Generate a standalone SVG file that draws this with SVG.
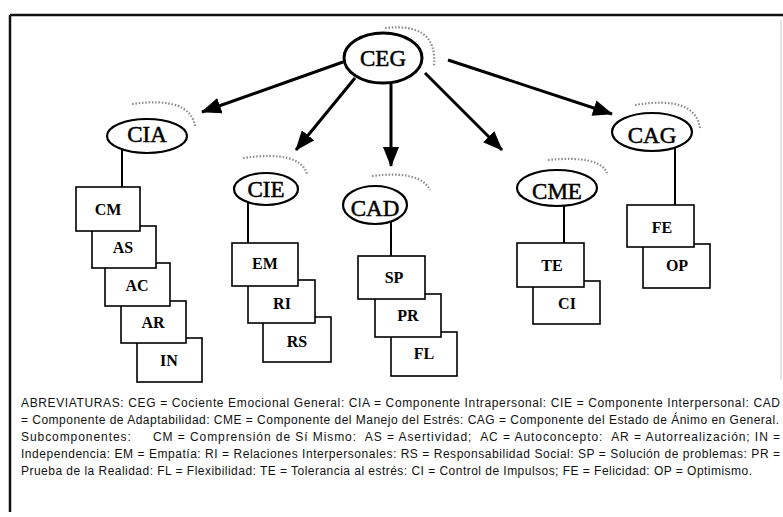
<svg xmlns="http://www.w3.org/2000/svg" width="783" height="517" viewBox="0 0 783 517">
<defs>
<marker id="ah" markerUnits="userSpaceOnUse" markerWidth="20" markerHeight="16" refX="19" refY="8" orient="auto">
<path d="M0,0 L20,8 L0,16 z" fill="#000"/>
</marker>
<style>
.conn{stroke:#000;stroke-width:3;fill:none}
.arr{marker-end:url(#ah)}
.link{stroke:#000;stroke-width:2;fill:none}
.ell{fill:#fff;stroke:#000;stroke-width:2.2}
.ell0{fill:#fff;stroke:#000;stroke-width:3}
.box{fill:#fff;stroke:#000;stroke-width:1.6}
.shade{fill:none;stroke:#8a8a8a;stroke-width:2.2;stroke-dasharray:1.5 1.8}
.lbl{font-family:"Liberation Serif",serif;font-size:23px;text-anchor:middle;fill:#000;stroke:#000;stroke-width:0.5}
.sub{font-family:"Liberation Serif",serif;font-size:16px;font-weight:bold;text-anchor:middle;fill:#000}
.note{font-family:"Liberation Sans",sans-serif;font-size:12px;fill:#111}
.frame{stroke:#111;stroke-width:2.5;fill:none}
</style>
</defs>
<rect width="783" height="517" fill="#fff"/>
<path class="frame" d="M10,15 L783,15 M10,15 L10,512"/>
<line x1="781" y1="20" x2="781" y2="380" stroke="#ccc" stroke-width="1"/>

<g id="shades">
<path class="shade" d="M385,28 Q438,22 434,66"/>
<path class="shade" d="M132,104 Q190,96 195,126"/>
<path class="shade" d="M243,158 Q300,150 307,174"/>
<path class="shade" d="M372,176 Q420,170 430,190"/>
<path class="shade" d="M548,160 Q600,155 607,173"/>
<path class="shade" d="M635,105 Q695,95 700,128"/>
</g>

<g id="connectors">
<line class="conn arr" x1="343" y1="62" x2="202" y2="112"/>
<line class="conn arr" x1="355" y1="78" x2="296" y2="150"/>
<line class="conn arr" x1="391" y1="82" x2="391" y2="166"/>
<line class="conn arr" x1="425" y1="73" x2="502" y2="150"/>
<line class="conn arr" x1="448" y1="60" x2="612" y2="114"/>
<line class="link" x1="122" y1="148" x2="122" y2="187"/>
<line class="link" x1="248" y1="200" x2="248" y2="243"/>
<line class="link" x1="391" y1="220" x2="391" y2="256"/>
<line class="link" x1="564" y1="204" x2="564" y2="243"/>
<line class="link" x1="675" y1="146" x2="675" y2="205"/>
</g>

<g id="CEG">
<ellipse class="ell0" cx="383" cy="58" rx="39" ry="25"/>
<text class="lbl" x="383" y="66">CEG</text>
</g>

<g id="CIA">
<ellipse class="ell" cx="147" cy="136" rx="40" ry="17"/>
<text class="lbl" x="147" y="142">CIA</text>
</g>
<g id="CIA-boxes">
<g id="IN"><rect class="box" x="137" y="338" width="65" height="44"/><text class="sub" x="169" y="366">IN</text></g>
<g id="AR"><rect class="box" x="121" y="301" width="65" height="42"/><text class="sub" x="153" y="328">AR</text></g>
<g id="AC"><rect class="box" x="105" y="263" width="65" height="43"/><text class="sub" x="137" y="291">AC</text></g>
<g id="AS"><rect class="box" x="92" y="226" width="64" height="42"/><text class="sub" x="123" y="253">AS</text></g>
<g id="CM"><rect class="box" x="76" y="187" width="64" height="44"/><text class="sub" x="108" y="215">CM</text></g>
</g>

<g id="CIE">
<ellipse class="ell" cx="266" cy="189" rx="32" ry="16"/>
<text class="lbl" x="266" y="197">CIE</text>
</g>
<g id="CIE-boxes">
<g id="RS"><rect class="box" x="263" y="317" width="68" height="45"/><text class="sub" x="297" y="347">RS</text></g>
<g id="RI"><rect class="box" x="248" y="280" width="67" height="43"/><text class="sub" x="282" y="309">RI</text></g>
<g id="EM"><rect class="box" x="232" y="243" width="66" height="43"/><text class="sub" x="265" y="269">EM</text></g>
</g>

<g id="CAD">
<ellipse class="ell" cx="375" cy="205" rx="32" ry="19"/>
<text class="lbl" x="375" y="216">CAD</text>
</g>
<g id="CAD-boxes">
<g id="FL"><rect class="box" x="391" y="332" width="66" height="44"/><text class="sub" x="424" y="359">FL</text></g>
<g id="PR"><rect class="box" x="375" y="294" width="66" height="43"/><text class="sub" x="408" y="321">PR</text></g>
<g id="SP"><rect class="box" x="358" y="256" width="67" height="43"/><text class="sub" x="394" y="283">SP</text></g>
</g>

<g id="CME">
<ellipse class="ell" cx="557" cy="188" rx="40" ry="18"/>
<text class="lbl" x="557" y="199">CME</text>
</g>
<g id="CME-boxes">
<g id="CI"><rect class="box" x="533" y="281" width="67" height="43"/><text class="sub" x="567" y="309">CI</text></g>
<g id="TE"><rect class="box" x="517" y="243" width="67" height="44"/><text class="sub" x="552" y="271">TE</text></g>
</g>

<g id="CAG">
<ellipse class="ell" cx="652" cy="132" rx="40" ry="19"/>
<text class="lbl" x="652" y="143">CAG</text>
</g>
<g id="CAG-boxes">
<g id="OP"><rect class="box" x="643" y="244" width="67" height="44"/><text class="sub" x="677" y="271">OP</text></g>
<g id="FE"><rect class="box" x="627" y="205" width="67" height="42"/><text class="sub" x="662" y="233">FE</text></g>
</g>

<g id="legend">
<text class="note" x="21" y="407" textLength="759" lengthAdjust="spacing">ABREVIATURAS: CEG = Cociente Emocional General:  CIA = Componente Intrapersonal: CIE = Componente Interpersonal: CAD</text>
<text class="note" x="21" y="424" textLength="758" lengthAdjust="spacing">= Componente de Adaptabilidad:  CME =  Componente del Manejo del Estrés:  CAG = Componente del Estado de Ánimo en  General.</text>
<text class="note" x="21" y="441" textLength="759" lengthAdjust="spacing" xml:space="preserve">Subcomponentes:     CM = Comprensión de Sí Mismo:  AS = Asertividad;  AC = Autoconcepto:  AR = Autorrealización; IN =</text>
<text class="note" x="21" y="458" textLength="759" lengthAdjust="spacing">Independencia: EM = Empatía: RI = Relaciones  Interpersonales: RS = Responsabilidad  Social: SP = Solución  de  problemas: PR =</text>
<text class="note" x="21" y="475" textLength="731" lengthAdjust="spacing">Prueba de la Realidad: FL = Flexibilidad:  TE = Tolerancia al estrés: CI = Control de Impulsos; FE = Felicidad: OP = Optimismo.</text>
</g>
</svg>
